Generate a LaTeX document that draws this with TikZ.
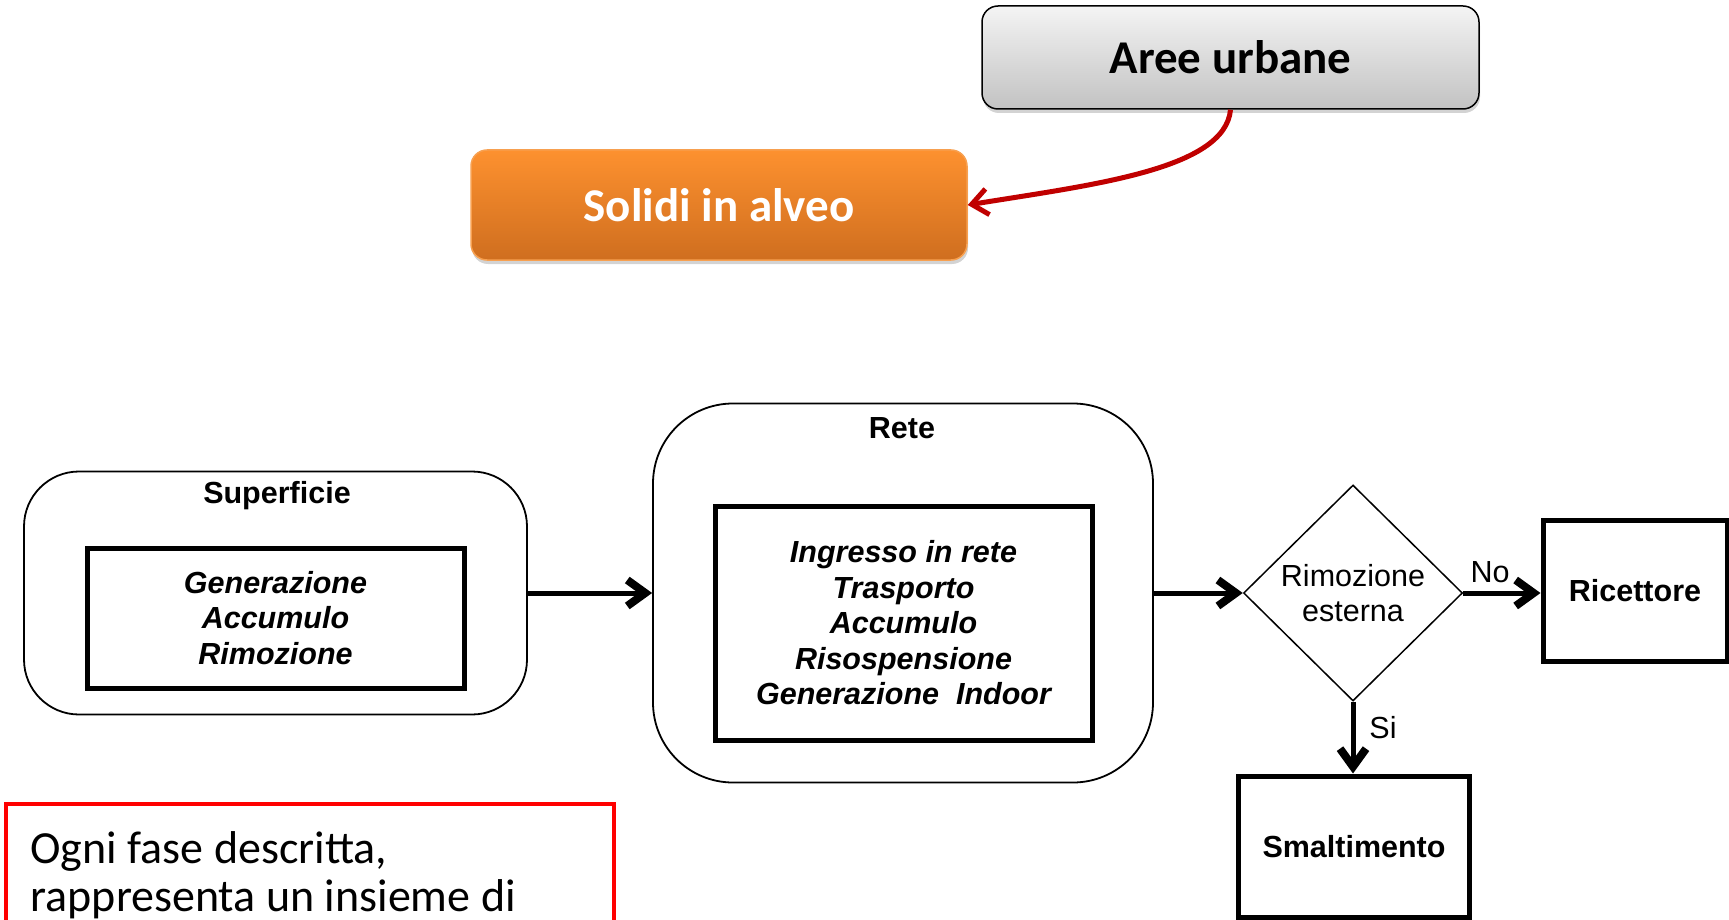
\documentclass[tikz,border=0pt]{standalone}
\usepackage{fontspec}
\setmainfont{Liberation Sans}
\newfontfamily\calibri{Carlito}
\usetikzlibrary{arrows.meta,shapes.geometric,shadows}
\definecolor{areetop}{HTML}{F4F4F4}
\definecolor{areebot}{HTML}{C2C2C2}
\definecolor{soltop}{HTML}{FD912F}
\definecolor{solbot}{HTML}{CF6E1F}
\definecolor{solline}{HTML}{F7A050}
\definecolor{arrowred}{HTML}{C00000}

\begin{document}
\begin{tikzpicture}[x=1pt,y=-1pt,
  callout/.style={rounded corners=16pt,inner sep=0pt,drop shadow={opacity=.35,shadow xshift=1pt,shadow yshift=-4pt},font=\calibri\fontsize{47}{56}\selectfont\bfseries},
  phase/.style={draw,line width=1.8pt,rounded corners=#1},
  inbox/.style={draw,line width=5pt,align=center,font=\fontsize{30.5}{35.5}\selectfont\bfseries\itshape},
  endbox/.style={draw,line width=5pt,font=\fontsize{30.5}{36}\selectfont\bfseries},
  lbl/.style={font=\fontsize{30.5}{36}\selectfont\bfseries},
  small/.style={font=\fontsize{30.5}{35}\selectfont},
  flow/.style={line width=5pt,-{Straight Barb[length=18pt,width=26pt,line width=8pt]}}]

\useasboundingbox (0,0) rectangle (1729,920);

\node (aree) [callout,draw,line width=1.5pt,top color=areetop,bottom color=areebot,minimum width=497pt,minimum height=103pt] at (1230.5,57.5) {Aree urbane};
\node (sol) [callout,draw=solline,line width=1.5pt,top color=soltop,bottom color=solbot,text=white,minimum width=496pt,minimum height=110pt] at (719,205) {Solidi in alveo};
\draw[line width=5pt,arrowred,-{Straight Barb[length=16pt,width=26pt]}] (aree.south) .. controls (1225,170) and (1090,185) .. (sol.east);

\node (sup) [phase=55pt,minimum width=503pt,minimum height=243pt] at (275.5,593) {};
\node (suplbl) [lbl] at (277,496) {Superficie};
\node (supin) [inbox,minimum width=377pt,minimum height=140pt] at (275.5,618) {Generazione\\Accumulo\\Rimozione};

\node (rete) [phase=80pt,minimum width=500pt,minimum height=379pt] at (903,593) {};
\node (retelbl) [lbl] at (902,428) {Rete};
\node (retein) [inbox,minimum width=377pt,minimum height=234pt] at (903.5,623) {Ingresso in rete\\Trasporto\\Accumulo\\Risospensione\\Generazione~~Indoor};

\node (dia) [diamond,draw,line width=1.5pt,aspect=1,inner sep=0pt,minimum width=219pt,minimum height=216pt,align=center,small] at (1353,593) {Rimozione\\esterna};
\node (ric) [endbox,minimum width=184pt,minimum height=141pt] at (1635,591) {Ricettore};
\node (smal) [endbox,minimum width=231pt,minimum height=141pt] at (1354,846.5) {Smaltimento};

\draw[flow] (sup.east) -- (sup.east -| rete.west);
\draw[flow] (rete.east) -- (dia.west);
\draw[flow] (dia.east) -- (dia.east -| ric.west);
\draw[flow] (dia.south) -- (dia.south |- smal.north);
\node (no) [small] at (1490,572) {No};
\node (si) [small] at (1383,728) {Si};

\draw[red,line width=4pt] (6,804) rectangle (614,980);
\node (note1) [anchor=base west,font=\calibri\fontsize{46}{49}\selectfont] at (27,863) {Ogni fase descritta,};
\node (note2) [anchor=base west,font=\calibri\fontsize{46}{49}\selectfont] at (27,911) {rappresenta un insieme di};
\end{tikzpicture}
\end{document}
